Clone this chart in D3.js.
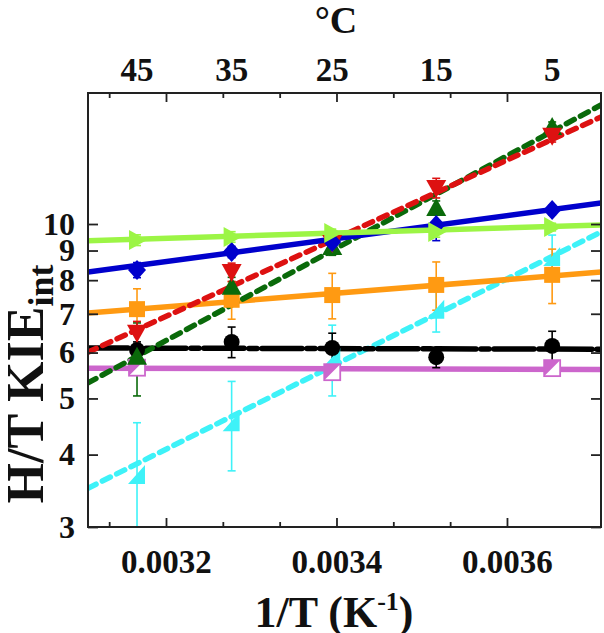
<!DOCTYPE html>
<html>
<head>
<meta charset="utf-8">
<script src="https://cdn.jsdelivr.net/npm/d3@7"></script>
<style>
  html, body { margin: 0; padding: 0; background: #fff; }
  svg { display: block; }
  text { font-family: "Liberation Serif", "Times New Roman", serif; font-weight: bold; fill: #111; }
</style>
</head>
<body>
<svg id="chart" width="604" height="633"></svg>
<script>
// ---- data ----
const xValues = [0.003166, 0.003277, 0.003395, 0.003517, 0.003653]; // 1/T of each measurement
const tempLabels = ["45", "35", "25", "15", "5"];                    // °C labels on the top axis
const xTickValues = [0.0032, 0.0034, 0.0036];
const yTickValues = [3, 4, 5, 6, 7, 8, 9, 10];

const lightGreenY = [9.38, 9.50, 9.65, 9.69, 9.88];
const lightGreenErr = [0.2, 0.2, 0.15, 0.2, 0.15];
const lightGreenFit = [9.36, 9.96];

const blueY = [8.33, 8.95, 9.31, 9.96, 10.57];
const blueErr = [0.25, 0.2, 0.2, 0.6, 0.2];
const blueFit = [8.26, 10.87];

const redY = [6.49, 8.26, 9.27, 11.54, 14.2];
const redErr = [0.3, 0.3, 0.3, 0.45, 0.35];
const redFit = [6.01, 15.3];

const darkGreenY = [5.9, 7.79, 9.13, 10.66, 14.7];
const darkGreenErr = [0.85, 0.3, 0.3, 0.3, 0.3];
const darkGreenFit = [5.32, 16.05];

const orangeY = [7.13, 7.40, 7.54, 7.85, 8.17];
const orangeErr = [0.6, 0.55, 0.68, 0.75, 0.88];
const orangeFit = [7.02, 8.26];

const blackY = [6.06, 6.26, 6.11, 5.89, 6.16];
const blackErr = [0.2, 0.38, 0.37, 0.24, 0.37];
const blackFit = [6.11, 6.08];

const magentaY = [5.65, null, 5.55, null, 5.64];
const magentaErr = [0.1, null, 0.1, null, 0.1];
const magentaFit = [5.64, 5.61];

const cyanY = [3.69, 4.55, 5.87, 7.11, 8.77];
const cyanErr = [0.85, 0.8, 0.82, 0.6, 0.8];
const cyanFit = [3.50, 9.69];

// ---- layout ----
const L = 88, R = 601, T = 93, B = 527;
const svg = d3.select("#chart");
const x = d3.scaleLinear().domain([0.0031085, 0.0037103]).range([L, R]);
const y = d3.scaleLog().domain([3, 16.83]).range([B, T]);

const series = [
  { name: "cyan", vals: cyanY, err: cyanErr, fit: cyanFit, color: "#3ef2f8", dash: "9,7", shape: "cornerTri" },
  { name: "orange", vals: orangeY, err: orangeErr, fit: orangeFit, color: "#ff9a12", dash: null, shape: "square" },
  { name: "magenta", vals: magentaY, err: magentaErr, fit: magentaFit, color: "#cc66cc", dash: null, shape: "halfSquare" },
  { name: "black", vals: blackY, err: blackErr, fit: blackFit, color: "#000000", dash: "40,5,8,5", shape: "circle" },
  { name: "darkgreen", vals: darkGreenY, err: darkGreenErr, fit: darkGreenFit, color: "#0a6a0a", dash: "9,7", shape: "triUp" },
  { name: "red", vals: redY, err: redErr, fit: redFit, color: "#dd1111", dash: "9,7", shape: "triDown" },
  { name: "blue", vals: blueY, err: blueErr, fit: blueFit, color: "#0000cc", dash: null, shape: "diamond" },
  { name: "lightgreen", vals: lightGreenY, err: lightGreenErr, fit: lightGreenFit, color: "#9cf545", dash: null, shape: "triRight" }
];

svg.append("defs").append("clipPath").attr("id", "plotClip")
  .append("rect").attr("x", L).attr("y", T).attr("width", R - L).attr("height", B - T);

const plot = svg.append("g").attr("clip-path", "url(#plotClip)");

// fit lines
const lineGen = d3.line().x(d => x(d[0])).y(d => y(d[1]));
series.forEach(s => {
  const pts = [[x.domain()[0], s.fit[0]], [x.domain()[1], s.fit[1]]];
  plot.append("path").attr("d", lineGen(pts))
    .attr("fill", "none").attr("stroke", s.color).attr("stroke-width", 5.5)
    .attr("stroke-dasharray", s.dash).attr("stroke-linecap", s.dash ? "round" : "butt");
});

// error bars
series.forEach(s => {
  s.vals.forEach((v, i) => {
    if (v == null) return;
    const cx = x(xValues[i]);
    const lo = Math.max(v - s.err[i], 2.5), hi = v + s.err[i];
    const g = plot.append("g").attr("stroke", s.color).attr("stroke-width", 1.6);
    g.append("line").attr("x1", cx).attr("x2", cx).attr("y1", y(lo)).attr("y2", y(hi));
    g.append("line").attr("x1", cx - 4).attr("x2", cx + 4).attr("y1", y(hi)).attr("y2", y(hi));
    g.append("line").attr("x1", cx - 4).attr("x2", cx + 4).attr("y1", y(lo)).attr("y2", y(lo));
  });
});

// markers
function markerPath(shape) {
  switch (shape) {
    case "square": return d3.symbol(d3.symbolSquare, 256)();
    case "circle": return d3.symbol(d3.symbolCircle, 200)();
    case "triUp": return "M0,-10L10,8L-10,8Z";
    case "triDown": return "M0,10L10,-8L-10,-8Z";
    case "triRight": return "M10,0L-8,-10L-8,10Z";
    case "diamond": return "M0,-10L9,0L0,10L-9,0Z";
    case "cornerTri": return "M8,-10L8,9L-9,9Z";
    default: return d3.symbol(d3.symbolSquare, 200)();
  }
}
series.forEach(s => {
  s.vals.forEach((v, i) => {
    if (v == null) return;
    const g = plot.append("g").attr("transform", `translate(${x(xValues[i])},${y(v)})`);
    if (s.shape === "halfSquare") {
      g.append("rect").attr("x", -8).attr("y", -8).attr("width", 16).attr("height", 16)
        .attr("fill", "#fff").attr("stroke", s.color).attr("stroke-width", 1.8);
      g.append("path").attr("d", "M-8,-8L8,-8L-8,8Z").attr("fill", s.color);
    } else {
      g.append("path").attr("d", markerPath(s.shape)).attr("fill", s.color);
    }
  });
});

// ---- axes ----
const minorTicks = d3.range(-1, 7).map(k => 0.0032 + k * 0.0002 / 3)
  .filter(v => v > x.domain()[0] && v < x.domain()[1] && !xTickValues.some(t => Math.abs(t - v) < 1e-8));

function styleAxis(g) {
  g.select(".domain").remove();
  g.selectAll("line").attr("stroke", "#222").attr("stroke-width", 1.8);
}
const labelFont = g => g.selectAll("text").attr("font-size", 33).attr("fill", "#111")
  .style("font-family", '"Liberation Serif", serif').style("font-weight", "bold");

// bottom
svg.append("g").attr("transform", `translate(0,${B})`)
  .call(d3.axisBottom(x).tickValues(xTickValues).tickSize(-9).tickPadding(23).tickFormat(d3.format(".4f")))
  .call(styleAxis).call(labelFont);
svg.append("g").attr("transform", `translate(0,${B})`)
  .call(d3.axisBottom(x).tickValues(minorTicks).tickSize(-5).tickFormat(""))
  .call(styleAxis);

// top
svg.append("g").attr("transform", `translate(0,${T})`)
  .call(d3.axisTop(x).tickValues(xTickValues).tickSize(-9).tickFormat(""))
  .call(styleAxis);
svg.append("g").attr("transform", `translate(0,${T})`)
  .call(d3.axisTop(x).tickValues(minorTicks).tickSize(-5).tickFormat(""))
  .call(styleAxis);
svg.append("g").selectAll("text").data(tempLabels).join("text")
  .attr("x", (d, i) => x(xValues[i])).attr("y", 81)
  .attr("text-anchor", "middle").attr("font-size", 33).text(d => d);

// left
svg.append("g").attr("transform", `translate(${L},0)`)
  .call(d3.axisLeft(y).tickValues(yTickValues).tickSize(-10).tickPadding(13).tickFormat(d3.format("d")))
  .call(styleAxis)
  .call(g => g.selectAll("text").attr("font-size", 32).attr("fill", "#111")
    .style("font-family", '"Liberation Serif", serif').style("font-weight", "bold"));
// right
svg.append("g").attr("transform", `translate(${R},0)`)
  .call(d3.axisRight(y).tickValues(yTickValues).tickSize(-10).tickFormat(""))
  .call(styleAxis);

// frame
svg.append("rect").attr("x", L).attr("y", T).attr("width", R - L).attr("height", B - T)
  .attr("fill", "none").attr("stroke", "#222").attr("stroke-width", 2);

// ---- titles ----
svg.append("text").attr("x", 336).attr("y", 33).attr("text-anchor", "middle")
  .attr("font-size", 38).text("°C");

const xt = svg.append("text").attr("x", 334).attr("y", 627).attr("text-anchor", "middle").attr("font-size", 44);
xt.append("tspan").text("1/T (K");
xt.append("tspan").attr("font-size", 26).attr("dy", -17).text("-1");
xt.append("tspan").attr("dy", 17).text(")");

const yt = svg.append("text").attr("transform", "translate(43,384) rotate(-90)")
  .attr("text-anchor", "middle").attr("font-size", 52);
yt.append("tspan").text("H/T KIE");
yt.append("tspan").attr("font-size", 36).attr("dy", 10).text("int");
</script>
</body>
</html>
